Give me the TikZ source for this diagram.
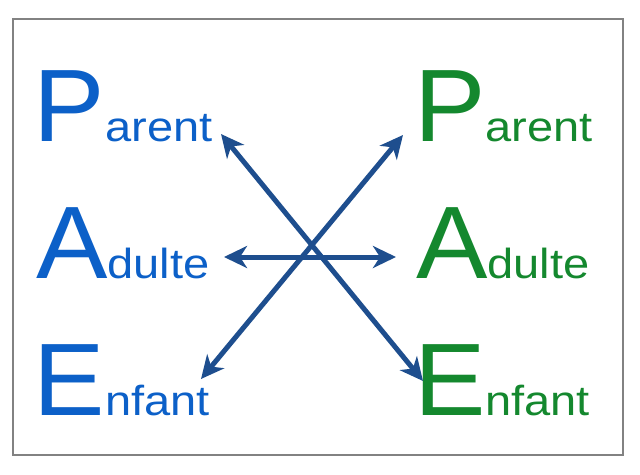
\documentclass[tikz,border=0pt]{standalone}
\usepackage{fontspec}
\setmainfont{Liberation Sans}
\usetikzlibrary{arrows.meta}
\definecolor{tblue}{RGB}{12,96,200}
\definecolor{tgreen}{RGB}{20,136,46}
\definecolor{ablue}{RGB}{30,78,142}
\definecolor{framegray}{RGB}{130,130,130}
\newcommand{\BigLet}[1]{{\fontsize{103}{103}\selectfont\addfontfeature{FakeStretch=1.04}#1}}
\newcommand{\SmlTxt}[1]{{\fontsize{42}{42}\selectfont\addfontfeature{FakeStretch=1.12}#1}}
\begin{document}
\begin{tikzpicture}[x=1pt,y=-1pt,
  lbl/.style={anchor=base west,inner sep=0pt,outer sep=0pt},
  arr/.style={draw=ablue,line width=5pt,{Stealth[length=23pt,width=22pt,inset=7pt]}-{Stealth[length=23pt,width=22pt,inset=7pt]}}]
\useasboundingbox (0,0) rectangle (640,474);
\draw[framegray,line width=2pt] (13,19) rectangle (623,455);
\node[lbl,text=tblue] (pl) at (34,141) {\BigLet{P}\SmlTxt{arent}};
\node[lbl,text=tblue] (al) at (36,278) {\BigLet{A}\SmlTxt{dulte}};
\node[lbl,text=tblue] (el) at (34,415) {\BigLet{E}\SmlTxt{nfant}};
\node[lbl,text=tgreen] (pr) at (414,141) {\BigLet{P}\SmlTxt{arent}};
\node[lbl,text=tgreen] (ar) at (416,278) {\BigLet{A}\SmlTxt{dulte}};
\node[lbl,text=tgreen] (er) at (414,415) {\BigLet{E}\SmlTxt{nfant}};
\coordinate (c1) at (221,134);
\coordinate (c2) at (423,381);
\coordinate (c3) at (403,135);
\coordinate (c4) at (201,379);
\coordinate (c5) at (224,257);
\coordinate (c6) at (396,257);
\draw[arr] (c1) -- (c2);
\draw[arr] (c4) -- (c3);
\draw[arr] (c5) -- (c6);
\end{tikzpicture}
\end{document}
